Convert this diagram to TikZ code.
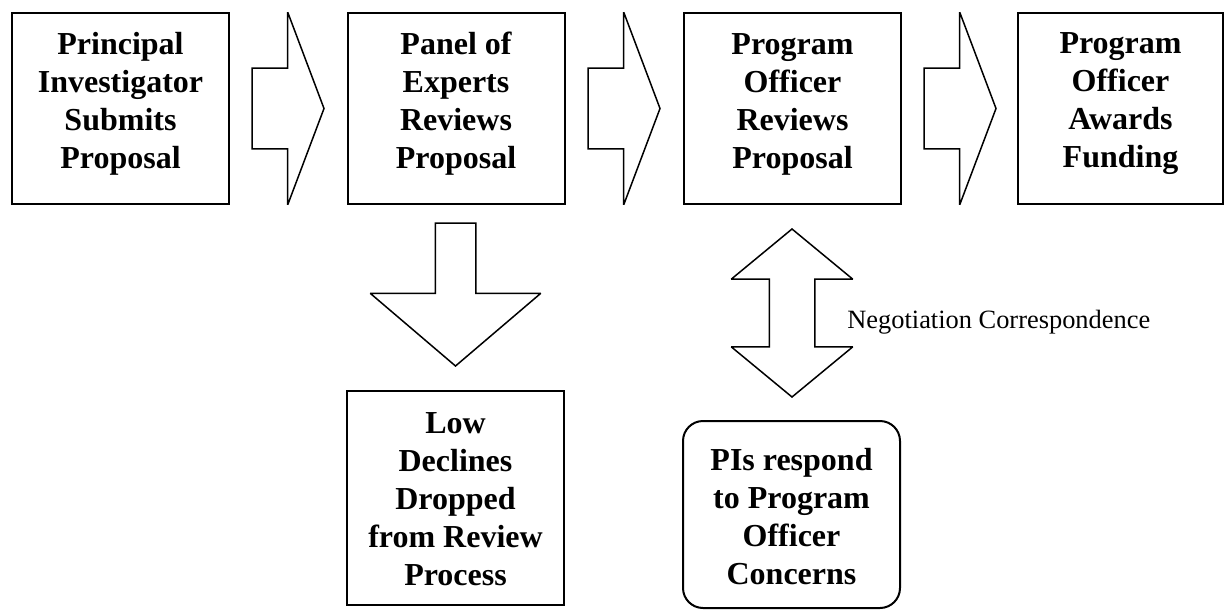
\documentclass[tikz,border=0pt]{standalone}
\usepackage{fontspec}
\setmainfont{Liberation Serif}
\usetikzlibrary{shapes.arrows}

\begin{document}
\begin{tikzpicture}[x=0.5pt,y=-0.5pt,
  bx/.style={draw,line width=1pt,minimum width=108.5pt,minimum height=95.5pt,inner sep=0pt},
  rb/.style={bx,rounded corners=10pt},
  lab/.style={font=\fontsize{16}{19}\selectfont\bfseries,align=center,inner sep=0pt},
  blk/.style={draw,line width=0.75pt,miter limit=2,inner xsep=0pt,outer sep=0pt},
  ra/.style={blk,single arrow,inner ysep=19.75pt,minimum width=95.5pt,minimum height=36pt,
    single arrow head extend=28pt,single arrow tip angle=138.7,anchor=tip},
  da/.style={blk,single arrow,rotate=-90,inner ysep=9.75pt,minimum width=84.5pt,minimum height=71.5pt,
    single arrow head extend=32.5pt,single arrow tip angle=99.1,anchor=tip},
  dd/.style={blk,double arrow,rotate=90,inner ysep=11pt,minimum width=60pt,minimum height=84pt,
    double arrow head extend=19pt,double arrow tip angle=100.9}]
  \useasboundingbox (0,0) rectangle (1225,610);
  % top row of steps
  \node[bx] (b1) at (120.5,108.5) {};
  \node[bx] (b2) at (456,108.5) {};
  \node[bx] (b3) at (792.5,108.5) {};
  \node[bx,minimum width=102.5pt] (b4) at (1120.5,108.5) {};
  \node[lab] (t1) at (120.5,104) {Principal\\Investigator\\Submits\\Proposal};
  \node[lab] (t2) at (456,104) {Panel of\\Experts\\Reviews\\Proposal};
  \node[lab] (t3) at (792.5,104) {Program\\Officer\\Reviews\\Proposal};
  \node[lab] (t4) at (1120.5,104) {Program\\Officer\\Awards\\Funding};
  % block arrows between the steps
  \node[ra] (a1) at (324,108.5) {};
  \node[ra] (a2) at (660,108.5) {};
  \node[ra] (a3) at (996,108.5) {};
  % lower branch
  \node[da] (a4) at (455.5,366) {};
  \node[bx,minimum height=107pt] (b5) at (455.5,498) {};
  \node[lab] (t5) at (455.5,499) {Low\\Declines\\Dropped\\from Review\\Process};
  \node[dd] (a5) at (792,313) {};
  \node[font=\fontsize{13.2}{15}\selectfont,anchor=base west,inner sep=0pt] (neg) at (847,328) {Negotiation Correspondence};
  \node[rb,minimum height=93.5pt] (b6) at (791.5,514.5) {};
  \node[lab] (t6) at (791.5,517) {PIs respond\\to Program\\Officer\\Concerns};
\end{tikzpicture}
\end{document}
